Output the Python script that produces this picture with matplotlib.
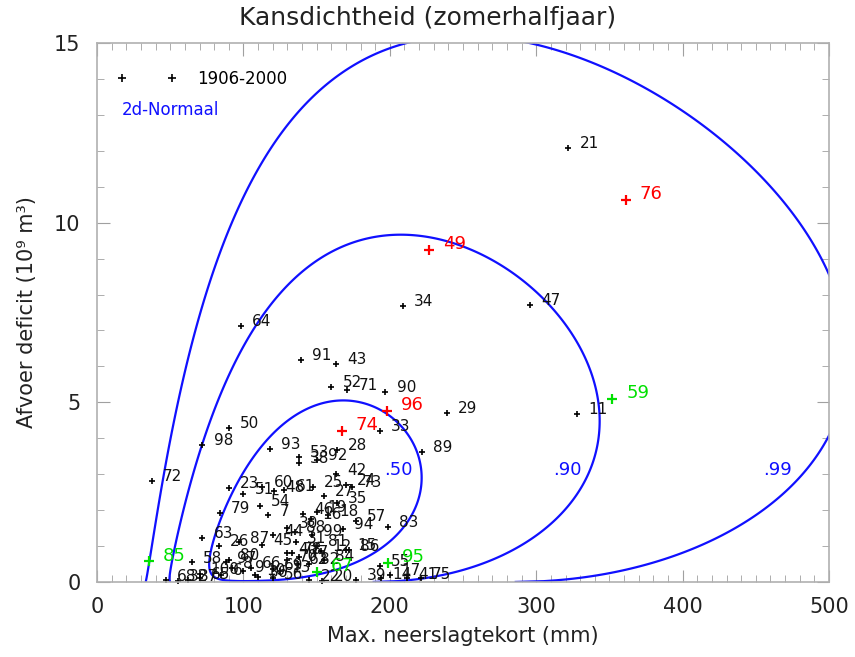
import numpy as np
import matplotlib
matplotlib.use('Agg')
import matplotlib.pyplot as plt
from matplotlib.ticker import MultipleLocator

plt.rcParams['font.family'] = ['DejaVu Sans']

# jaartallen (jaar - 1900) met neerslagtekort (mm) en afvoerdeficit (10^9 m3)
labels = ['21', '76', '47', '11', '59', '49', '34', '64', '91', '43',
          '52', '71', '90', '96', '29', '74', '33', '89', '93', '50',
          '98', '72', '85', '23', '79', '63', '26', '58', '28', '53',
          '38', '92', '42', '25', '73', '35', '46', '57', '94', '83',
          '45', '12', '86', '67', '95', '75', '60', '7',
          '31', '88', '99', '18', '19', '16', '48', '54', '24', '81',
          '78', '40', '80', '70', '62', '66', '69', '36', '56', '55',
          '22', '20', '39', '14', '41', '17', '68', '32', '37', '65',
          '6', '8', '9', '10', '13', '15', '27', '30', '44', '51',
          '61', '77', '82', '84', '87', '97', '100']
tekort = [322, 361, 296, 328, 352, 227, 209, 98, 139, 163,
          160, 171, 197, 198, 239, 167, 193, 222, 118, 90,
          72, 37.6, 35.5, 90, 84, 72, 83, 65, 164, 138,
          138, 150, 163, 147.5, 174, 164, 141, 177, 168, 199,
          113, 153, 172, 150, 199, 221, 113, 117,
          136, 135, 147, 158, 150, 146, 121, 111, 170, 150,
          133, 130, 90, 130, 137, 105, 120, 110, 120, 193,
          145, 154, 177, 194, 212, 200, 47, 55, 62, 70,
          85, 92, 100, 108, 125, 170, 155, 130, 120, 100,
          128, 138, 145, 155, 97, 88, 70]
deficit = [12.08, 10.63, 7.71, 4.68, 5.1, 9.25, 7.68, 7.12, 6.18, 6.07,
           5.43, 5.34, 5.29, 4.76, 4.70, 4.20, 4.20, 3.62, 3.7, 4.29,
           3.81, 2.81, 0.58, 2.62, 1.92, 1.22, 1.0, 0.55, 3.67, 3.48,
           3.31, 3.4, 3.0, 2.65, 2.65, 2.2, 1.9, 1.7, 1.48, 1.53,
           1.03, 0.86, 0.88, 0.28, 0.53, 0.1, 2.64, 1.85,
           1.1, 1.4, 1.3, 1.85, 1.95, 1.75, 2.52, 2.12, 2.7, 1.0,
           0.8, 0.8, 0.62, 0.6, 0.5, 0.4, 0.35, 0.15, 0.1, 0.45,
           0.05, 0.03, 0.06, 0.1, 0.1, 0.2, 0.05, 0.03, 0.05, 0.1,
           0.2, 0.4, 0.3, 0.2, 0.3, 0.9, 2.4, 1.5, 1.3, 2.45,
           2.55, 0.7, 0.5, 0.6, 1.1, 0.55, 0.22]
rood = ['49', '74', '76', '96']
groen = ['59', '67', '85', '95']

# 2d-normale verdeling op (ln x, sqrt y)
mu_u, sd_u = 4.87, 0.4514
mu_v, sd_v = 1.201, 0.889
rho = 0.48
kansen = [0.50, 0.90, 0.99]
kans_labels = ['.50', '.90', '.99']
kans_label_pos = [(206, 3.12), (321, 3.12), (465, 3.12)]

fig = plt.figure(figsize=(8.55, 6.57), dpi=100)
ax = fig.add_axes([0.1135, 0.1142, 0.8561, 0.8204])

xg = np.linspace(0.5, 520, 700)
yg = np.linspace(0, 16, 700)
X, Y = np.meshgrid(xg, yg)
zu = (np.log(X) - mu_u) / sd_u
zv = (np.sqrt(Y) - mu_v) / sd_v
D2 = (zu**2 - 2 * rho * zu * zv + zv**2) / (1 - rho**2)
levels = [-2 * np.log(1 - p) for p in kansen]
ax.contour(X, Y, D2, levels=levels, colors='#1010ff', linewidths=1.6)
for lab, (lx, ly) in zip(kans_labels, kans_label_pos):
    ax.text(lx, ly, lab, color='#1010ff', fontsize=13, ha='center', va='center')

for lab, x, y in zip(labels, tekort, deficit):
    if lab in rood or lab in groen:
        c = 'red' if lab in rood else '#00e000'
        ax.plot(x, y, '+', color=c, ms=7, mew=1.6, clip_on=False, zorder=4)
        ax.annotate(lab, (x, y), xytext=(10, 4), textcoords='offset points',
                    color=c, fontsize=13, va='center', zorder=4)
    else:
        ax.plot(x, y, '+', color='black', ms=4.5, mew=1.2, clip_on=False)
        ax.annotate(lab, (x, y), xytext=(8, 3), textcoords='offset points',
                    color='#111111', fontsize=11, va='center')

ax.set_xlim(0, 500)
ax.set_ylim(0, 15)
ax.xaxis.set_major_locator(MultipleLocator(100))
ax.xaxis.set_minor_locator(MultipleLocator(10))
ax.yaxis.set_major_locator(MultipleLocator(5))
ax.yaxis.set_minor_locator(MultipleLocator(1))
ax.tick_params(which='both', direction='in', top=True, right=True,
               color='#a0a0a0', labelsize=15, labelcolor='#222222')
ax.tick_params(axis='x', pad=11)
ax.tick_params(axis='y', pad=12)
ax.tick_params(which='major', length=9)
ax.tick_params(which='minor', length=5)
for s in ax.spines.values():
    s.set_color('#b0b0b0')
    s.set_linewidth(1.2)

ax.set_xlabel('Max. neerslagtekort (mm)', fontsize=15, color='#222222', labelpad=6)
ax.set_ylabel('Afvoer deficit (10⁹ m³)', fontsize=15, color='#222222', labelpad=12)
fig.text(0.5, 0.972, 'Kansdichtheid (zomerhalfjaar)', fontsize=18,
         color='#222222', ha='center', va='center')

ax.legend([plt.Line2D([], [], ls='none', marker='+', color='black', ms=6, mew=1.2)],
          ['1906-2000'], numpoints=2, loc='upper left', frameon=False,
          fontsize=12, handlelength=3.6, handletextpad=1.2,
          bbox_to_anchor=(0.007, 0.978))
ax.text(0.034, 0.875, '2d-Normaal', color='#1010ff', fontsize=12,
        transform=ax.transAxes, va='center')

fig.savefig('out.png', dpi=100)
